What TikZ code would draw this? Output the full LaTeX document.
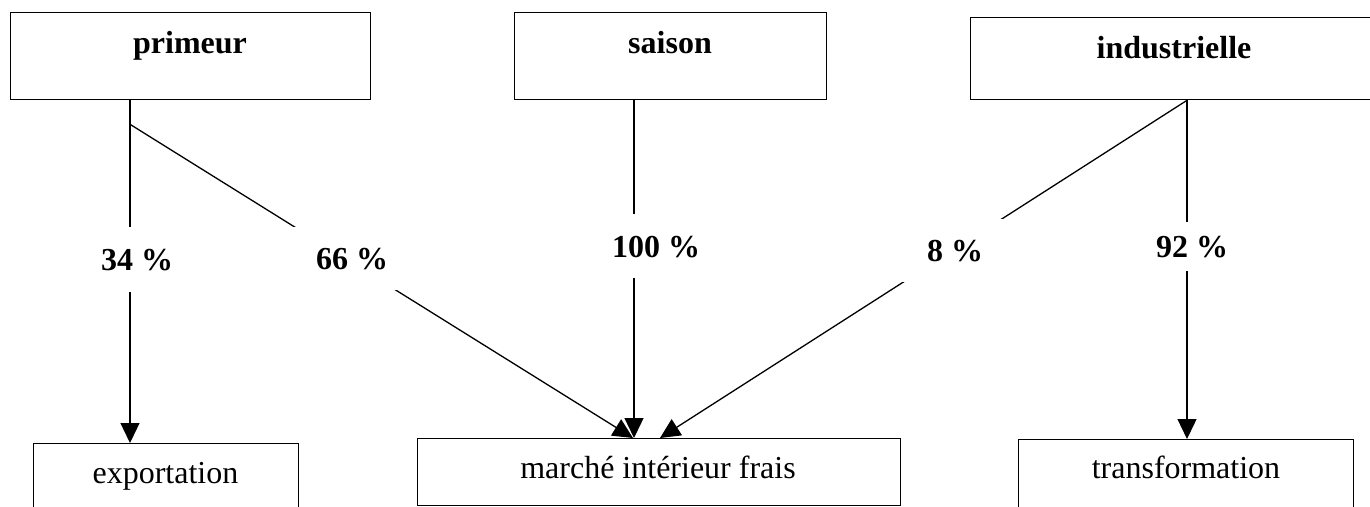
\documentclass[tikz,border=0pt]{standalone}
\usepackage{fontspec}
\setmainfont{Liberation Serif}
\usetikzlibrary{arrows.meta}
\begin{document}
\begin{tikzpicture}[x=1pt,y=-1pt,
 box/.style={draw, line width=1.3pt, inner sep=0pt, anchor=north west},
 txt/.style={anchor=base, inner sep=0pt, font=\fontsize{32}{38}\selectfont},
 btxt/.style={anchor=base, inner sep=0pt, font=\fontsize{32}{38}\selectfont\bfseries},
 pct/.style={fill=white, inner sep=0pt, text height=22pt, text depth=0pt, font=\fontsize{32}{38}\selectfont\bfseries},
 conn/.style={line width=1.3pt},
 arr/.style={conn, -{Triangle[length=20pt,width=19pt]}}]
\useasboundingbox (0,0) rectangle (1370,506);
% boxes
\node[box, minimum width=360pt, minimum height=87pt] (p) at (10,12) {};
\node[box, minimum width=312pt, minimum height=87pt] (s) at (514,12) {};
\node[box, minimum width=408pt, minimum height=82pt] (i) at (970,17) {};
\node[box, minimum width=265pt, minimum height=80pt] (e) at (33,443) {};
\node[box, minimum width=483pt, minimum height=67pt] (m) at (417,438) {};
\node[box, minimum width=335pt, minimum height=80pt] (t) at (1018,439) {};
% box texts
\node[btxt] (pT) at (190,53) {primeur};
\node[btxt] (sT) at (670,53) {saison};
\node[btxt] (iT) at (1174,58) {industrielle};
\node[txt] (eT) at (165.5,483) {exportation};
\node[txt] (mT) at (658,478) {marché intérieur frais};
\node[txt] (tT) at (1186,478) {transformation};
% connectors
\draw[arr] ([xshift=120pt]p.south west) -- ([xshift=97pt]e.north west);
\draw[arr] ([xshift=120pt,yshift=-24pt]p.south west) -- ([xshift=216pt]m.north west);
\draw[arr] ([xshift=120pt]s.south west) -- ([xshift=217pt]m.north west);
\draw[arr] ([xshift=217pt]i.south west) -- ([xshift=243pt]m.north west);
\draw[arr] ([xshift=217pt]i.south west) -- ([xshift=169pt]t.north west);
% percentage labels
\node[pct, minimum width=72pt, minimum height=65pt] (l34) at (137,259.5) {34 \%};
\node[pct, minimum width=120pt, minimum height=63pt] (l66) at (352,258.5) {66 \%};
\node[pct, minimum width=86pt, minimum height=64pt] (l100) at (656,246) {100 \%};
\node[pct, minimum width=110pt, minimum height=63pt] (l8) at (955,250.5) {8 \%};
\node[pct, minimum width=80pt, minimum height=49pt] (l92) at (1192,246.5) {92 \%};
\end{tikzpicture}
\end{document}
